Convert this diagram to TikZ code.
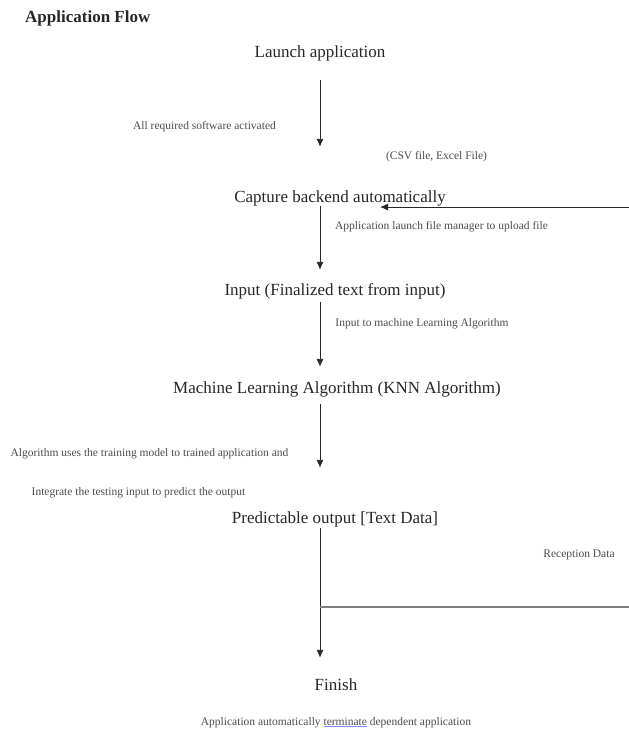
\documentclass[tikz,border=0pt]{standalone}
\usepackage{fontspec}
\setmainfont{Liberation Serif}
\usepackage{tikz}
\usetikzlibrary{arrows.meta,positioning}

\begin{document}
\begin{tikzpicture}[
		x=1pt,y=-1pt,
		stage/.style={
			font=\fontsize{17}{20}\selectfont,
			text=black!85,
			inner sep=0pt,
			text height=11.5pt,
			text depth=3.5pt,
			anchor=base,
		},
		note/.style={
			font=\fontsize{11.5}{13}\selectfont,
			text=black!70,
			inner sep=0pt,
			anchor=base,
		},
		flow/.style={-{Latex[length=8pt,width=7pt]},line width=0.9pt,draw=black!85},
		feedback/.style={line width=1.8pt,draw=black!50},
		]
		\useasboundingbox (0,0) rectangle (629,731);
		% Draw the title
		\node[font=\bfseries\fontsize{17}{20}\selectfont,text=black!85,inner sep=0pt,anchor=base west] (title) at (25,22) {Application Flow};
		% Draw the stages
		\node[stage] (launch) at (320,57) {Launch application};
		\node[stage] (capture) at (340,202) {Capture backend automatically};
		\node[stage] (input) at (335,295) {Input (Finalized text from input)};
		\node[stage] (mlalgo) at (337,393) {Machine Learning Algorithm (KNN Algorithm)};
		\node[stage] (predict) at (335,523) {Predictable output [Text Data]};
		\node[stage] (finish) at (336,690) {Finish};
		% The line all arrows follow
		\coordinate (spine) at (320,0);
		% Draw the arrows between the stages
		\foreach \from/\to/\s/\e in {launch/capture/19.5/43.5,capture/input/0/13.5,input/mlalgo/3.5/14.5,mlalgo/predict/7.5/43.5,predict/finish/1.5/20.5} {
			\draw[flow,shorten <=\s pt,shorten >=\e pt] (\from.south -| spine) -- (\to.north -| spine);
		}
		% Draw the notes
		\node[note] (software) at (204.5,129) {All required software activated};
		\node[note] (filetype) at (436.5,159) {(CSV file, Excel File)};
		\node[note] (manager) at (441.5,229) {Application launch file manager to upload file};
		\node[note] (tomodel) at (422,326) {Input to machine Learning Algorithm};
		\node[note] (training) at (149.5,456) {Algorithm uses the training model to trained application and};
		\node[note] (testing) at (138.5,495) {Integrate the testing input to predict the output};
		\node[note] (reception) at (579,557) {Reception Data};
		\node[note] (terminate) at (336,725) {Application automatically {\color{blue!45}\underline{\textcolor{black!70}{terminate}}} dependent application};
		% Draw the file input from the right
		\coordinate (upload) at (629,207);
		\coordinate (uploadtip) at (380,207);
		\draw[flow] (upload) -- (uploadtip);
		% Draw the reception line
		\coordinate (receive) at (629,607);
		\draw[feedback] (receive) -- (receive -| spine);
	\end{tikzpicture}
\end{document}
